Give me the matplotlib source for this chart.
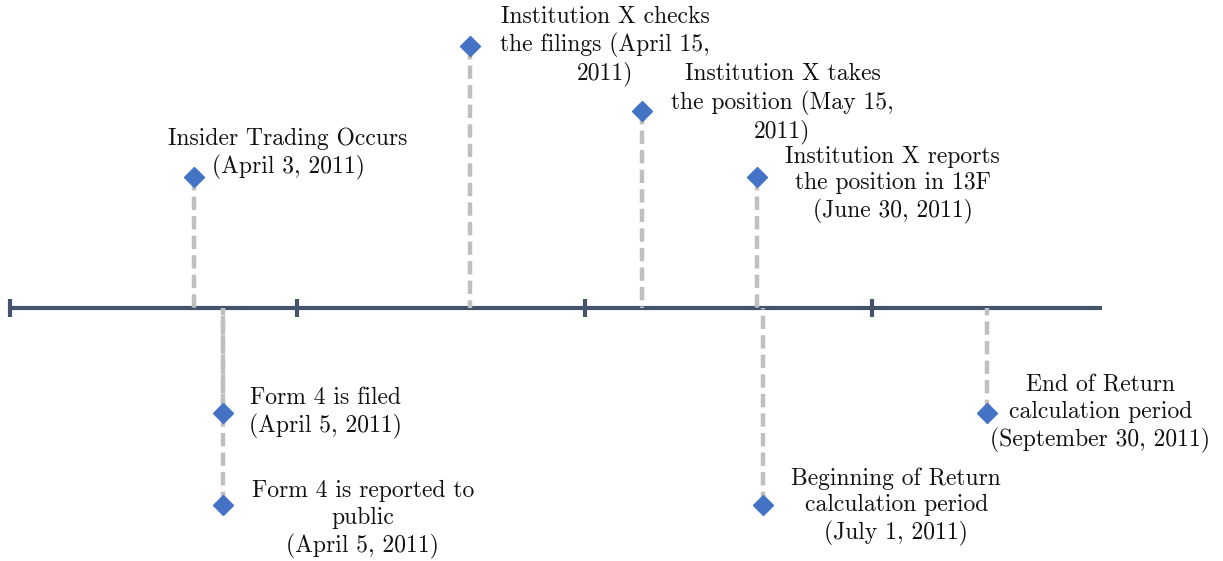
import matplotlib
matplotlib.use("Agg")
import matplotlib.pyplot as plt

plt.rcParams['font.family'] = ['cmr10', 'DejaVu Serif']
plt.rcParams['axes.formatter.use_mathtext'] = True

# ------------------------------ data ------------------------------------#
event_x = [6.4, 7.4, 7.4, 16.0, 22.0, 26.0, 26.2, 34.0]
event_y = [20, -16, -30, 40, 30, 20, -30, -16]
event_labels = [
    "Insider Trading Occurs\n(April 3, 2011)",
    "Form 4 is filed\n(April 5, 2011)",
    "Form 4 is reported to\npublic\n(April 5, 2011)",
    "Institution X checks\nthe filings (April 15,\n2011)",
    "Institution X takes\nthe position (May 15,\n2011)",
    "Institution X reports\nthe position in 13F\n(June 30, 2011)",
    "Beginning of Return\ncalculation period\n(July 1, 2011)",
    "End of Return\ncalculation period\n(September 30, 2011)",
]
axis_ticks = [0, 10, 20, 30]
axis_end = 38

# label offsets from the marker, in pixels (right, down)
label_offsets = [(94, -23), (103, 0), (140, 15), (135, 0),
                 (140, -8), (135, 8), (133, 2), (113, 1)]

# ------------------------------ figure ----------------------------------#
fig = plt.figure(figsize=(12.23, 5.61), dpi=100)
ax = fig.add_axes([0, 0, 1, 1])
ax.set_xlim(-10 / 28.75, 1213 / 28.75)
ax.set_ylim(-253 / 6.55, 308 / 6.55)
ax.axis('off')

axis_color = "#44546A"
stem_color = "#BFBFBF"
marker_color = "#4472C4"

# timeline axis
ax.plot([0, axis_end], [0, 0], color=axis_color, lw=3.0,
        solid_capstyle='butt', zorder=1)
ax.plot(axis_ticks, [0] * len(axis_ticks), ls='none', marker='|',
        ms=13, mew=3.0, color=axis_color, zorder=1)

# stems, drawn from the marker to the axis
for x, y in zip(event_x, event_y):
    ax.plot([x, x], [y, 0], color=stem_color, lw=3.2,
            ls=(0, (3.0, 1.4)), dash_capstyle='butt', zorder=2)

ax.plot(event_x, event_y, ls='none', marker='D', ms=10,
        color=marker_color, mec=marker_color, zorder=3)

for x, y, txt, (dx, dy) in zip(event_x, event_y, event_labels, label_offsets):
    ax.annotate(txt, (x, y), xytext=(dx * 0.72, -dy * 0.72),
                textcoords='offset points', ha='center', va='center',
                ma='center', fontsize=17, linespacing=1.25,
                color="#111111")

fig.savefig("out.png", dpi=100)
